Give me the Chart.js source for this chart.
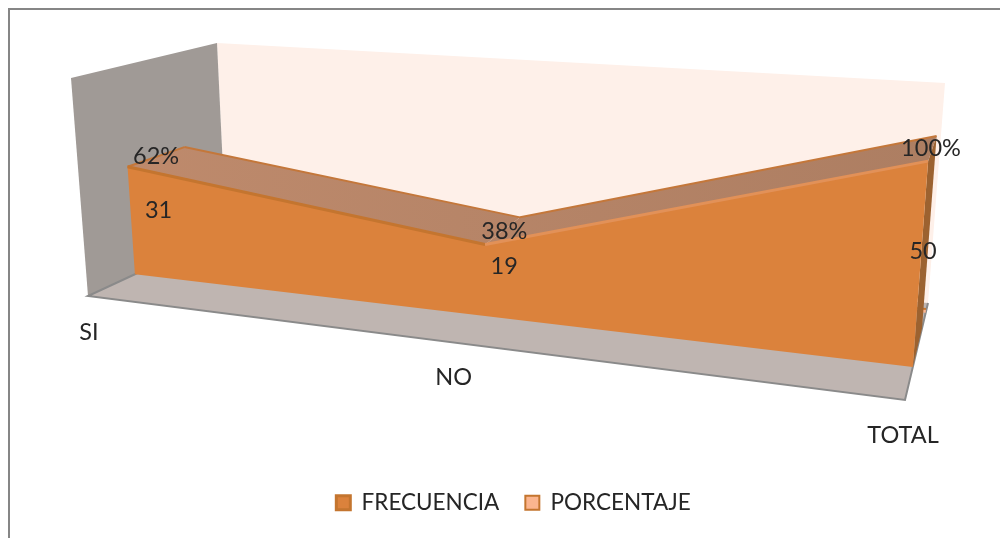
<!DOCTYPE html>
<html>
<head>
<meta charset="utf-8">
<title>Frecuencia y porcentaje</title>
<script src="https://cdn.jsdelivr.net/npm/chart.js@4/dist/chart.umd.min.js"></script>
<style>
  html, body { margin: 0; padding: 0; background: #fff; }
  canvas { display: block; }
</style>
</head>
<body>
<canvas id="areaChart" width="1000" height="538"></canvas>
<script>
// data
const categories = ["SI", "NO", "TOTAL"];
const frecuencia = [31, 19, 50];
const porcentaje = [0.62, 0.38, 1];
const porcentajeLabels = ["62%", "38%", "100%"];
const axisMax = 60;

// the 3d box, corners in canvas pixels: [left, right] for floor and top of front and back planes
const box = {
  floorFront: [[88, 296], [905, 400]],
  floorBack: [[226, 232], [928, 303]],
  topFront: [[71, 78], [924, 139]],
  topBack: [[217, 43], [945, 83]]
};
const xSkew = 1.222;          // perspective squeeze along the category axis
const frontDepth = 0.34;      // where the FRECUENCIA band starts
const frontBackDepth = 0.74;  // and where it ends
const backDepth = 0.9;        // PORCENTAJE band

const labelFont = "23.5px Lato";
const textColor = "#262626";
// nudges from the projected point to where each label sits
const nudgeFrecuencia = [[31, 44], [19, 22], [-5, 90]];
const nudgePorcentaje = [[-56, -80], [-29, -39], [5, -161]];
const nudgeCategory = [[1, 36], [-2, 35], [-2, 35]];

function mix(a, b, t) {
  return [a[0] + (b[0] - a[0]) * t, a[1] + (b[1] - a[1]) * t];
}

// x, v run 0..1 along the category and value axes, z 0..1 into the picture
function project(x, v, z) {
  const t = x / (x + xSkew * (1 - x));
  const floor = mix(mix(box.floorFront[0], box.floorBack[0], z), mix(box.floorFront[1], box.floorBack[1], z), t);
  const top = mix(mix(box.topFront[0], box.topBack[0], z), mix(box.topFront[1], box.topBack[1], z), t);
  return mix(floor, top, v);
}

function projectPixels(chart, px, py, z) {
  const a = chart.chartArea;
  return project((px - a.left) / (a.right - a.left), (a.bottom - py) / (a.bottom - a.top), z);
}

function poly(ctx, pts, fill, stroke, width) {
  ctx.beginPath();
  pts.forEach((p, i) => i ? ctx.lineTo(p[0], p[1]) : ctx.moveTo(p[0], p[1]));
  ctx.closePath();
  if (fill) { ctx.fillStyle = fill; ctx.fill(); }
  if (stroke) { ctx.strokeStyle = stroke; ctx.lineWidth = width; ctx.stroke(); }
}

// the line from a dataset's values, and its foot on the floor, at some depth
function bandPoints(chart, values, z) {
  const xs = chart.scales.x, ys = chart.scales.y;
  return {
    tops: values.map((v, i) => projectPixels(chart, xs.getPixelForValue(i), ys.getPixelForValue(v), z)),
    feet: values.map((v, i) => projectPixels(chart, xs.getPixelForValue(i), ys.getPixelForValue(0), z))
  };
}

const perspective3d = {
  id: "perspective3d",
  afterDatasetsUpdate(chart) {
    chart.data.datasets.forEach((ds, d) => {
      chart.getDatasetMeta(d).data.forEach(pt => {
        const p = projectPixels(chart, pt.x, pt.y, ds.depth);
        pt.x = p[0];
        pt.y = p[1];
      });
    });
  },
  beforeDatasetsDraw(chart) {
    const ctx = chart.ctx;
    ctx.save();
    // chart frame, runs off the right and bottom of the shot
    ctx.strokeStyle = "#868686";
    ctx.lineWidth = 2;
    ctx.strokeRect(9, 9, 1100, 1100);
    // back wall, side wall, floor
    poly(ctx, [box.topBack[0], box.topBack[1], box.floorBack[1], box.floorBack[0]], "#fef0e9");
    poly(ctx, [box.topFront[0], box.topBack[0], box.floorBack[0], box.floorFront[0]], "#a09a96");
    poly(ctx, [box.floorFront[0], box.floorFront[1], box.floorBack[1], box.floorBack[0]], "#bfb5b1");
    ctx.strokeStyle = "#8a8a8a";
    ctx.lineWidth = 2;
    ctx.beginPath();
    ctx.moveTo(box.floorBack[0][0], box.floorBack[0][1]);
    ctx.lineTo(box.floorFront[0][0], box.floorFront[0][1]);
    ctx.lineTo(box.floorFront[1][0], box.floorFront[1][1]);
    ctx.lineTo(box.floorBack[1][0], box.floorBack[1][1]);
    ctx.stroke();
    ctx.restore();
  },
  beforeDatasetDraw(chart, args) {
    const ctx = chart.ctx;
    const ds = chart.data.datasets[args.index];
    const n = ds.data.length;
    ctx.save();
    if (args.index === 0) {
      // top and end faces of the front band
      const front = bandPoints(chart, ds.data, frontDepth);
      const back = bandPoints(chart, ds.data, frontBackDepth);
      const shade = ctx.createLinearGradient(front.tops[0][0], 0, front.tops[n - 1][0], 0);
      shade.addColorStop(0, "#be8a6c");
      shade.addColorStop(1, "#ad7e62");
      poly(ctx, [front.feet[n - 1], front.tops[n - 1], back.tops[n - 1], back.feet[n - 1]], "#9c6230");
      for (let i = 0; i < n - 1; i++) {
        poly(ctx, [front.tops[i], front.tops[i + 1], back.tops[i + 1], back.tops[i]], shade);
      }
      poly(ctx, [front.tops[0], back.tops[0]], null, "#c4773a", 2);
      ctx.beginPath();
      back.tops.forEach((p, i) => i ? ctx.lineTo(p[0], p[1]) : ctx.moveTo(p[0], p[1]));
      ctx.strokeStyle = "#c4773a";
      ctx.lineWidth = 2;
      ctx.stroke();
    }
    // the area itself, between the line and its foot
    const band = bandPoints(chart, ds.data, ds.depth);
    poly(ctx, band.tops.concat(band.feet.slice().reverse()), ds.backgroundColor);
    ctx.restore();
  },
  afterDatasetsDraw(chart) {
    const ctx = chart.ctx;
    const xs = chart.scales.x;
    ctx.save();
    ctx.font = labelFont;
    ctx.fillStyle = textColor;
    ctx.textAlign = "center";
    ctx.textBaseline = "middle";
    chart.getDatasetMeta(0).data.forEach((pt, i) => {
      ctx.fillText(String(frecuencia[i]), pt.x + nudgeFrecuencia[i][0], pt.y + nudgeFrecuencia[i][1]);
    });
    chart.getDatasetMeta(1).data.forEach((pt, i) => {
      ctx.fillText(porcentajeLabels[i], pt.x + nudgePorcentaje[i][0], pt.y + nudgePorcentaje[i][1]);
    });
    categories.forEach((c, i) => {
      const foot = projectPixels(chart, xs.getPixelForValue(i), chart.scales.y.getPixelForValue(0), 0);
      ctx.fillText(xs.getLabelForValue(i), foot[0] + nudgeCategory[i][0], foot[1] + nudgeCategory[i][1]);
    });
    ctx.restore();
  }
};

new Chart(document.getElementById("areaChart"), {
  type: "line",
  data: {
    labels: categories,
    datasets: [
      {
        label: "FRECUENCIA",
        data: frecuencia,
        depth: frontDepth,
        backgroundColor: "#db823c",
        borderColor: "#c4752f",
        borderWidth: 3,
        pointRadius: 0,
        fill: false,
        clip: false,
        segment: { borderColor: c => c.p0DataIndex === 1 ? "#e29158" : "#c4752f" }
      },
      {
        label: "PORCENTAJE",
        data: porcentaje,
        depth: backDepth,
        backgroundColor: "#fbb58f",
        borderColor: "#c4752f",
        borderWidth: 2,
        pointRadius: 0,
        fill: false,
        clip: false
      }
    ]
  },
  options: {
    responsive: false,
    animation: false,
    layout: { padding: { left: 27, bottom: 14 } },
    scales: {
      x: { display: false, offset: false },
      y: { display: false, min: 0, max: axisMax }
    },
    plugins: {
      tooltip: { enabled: false },
      legend: {
        position: "bottom",
        labels: {
          font: { family: "Lato", size: 22.5 },
          color: textColor,
          boxWidth: 14,
          boxHeight: 14,
          padding: 26
        }
      }
    }
  },
  plugins: [perspective3d]
});
</script>
</body>
</html>
